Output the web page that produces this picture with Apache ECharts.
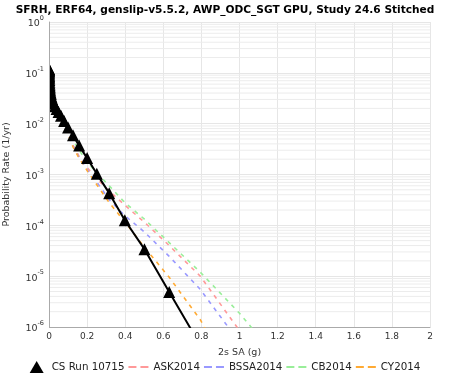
<!DOCTYPE html>
<html><head><meta charset="utf-8">
<script src="https://cdn.jsdelivr.net/npm/echarts@6/dist/echarts.min.js"></script>
<style>html,body{margin:0;padding:0;background:#fff}#c{width:450px;height:375px}</style>
</head><body><div id="c"></div>
<script>
const chartTitle = 'SFRH, ERF64, genslip-v5.5.2, AWP_ODC_SGT GPU, Study 24.6 Stitched';
const xAxisName = '2s SA (g)';
const yAxisName = 'Probability Rate (1/yr)';
const seriesNames = ['CS Run 10715', 'ASK2014', 'BSSA2014', 'CB2014', 'CY2014'];
const seriesColors = ['#000000', '#ff9999', '#9999ff', '#99ee99', '#ffaa33'];

const saValues = [0.0001,0.00013,0.00016,0.0002,0.00025,0.00032,0.0004,0.0005,0.00063,0.00079,
  0.001,0.00126,0.00158,0.002,0.00251,0.00316,0.00398,0.00501,0.00631,0.00794,
  0.01,0.0126,0.0158,0.02,0.0251,0.0316,0.0398,0.0501,0.0631,0.0794,
  0.1,0.126,0.158,0.2,0.251,0.316,0.398,0.501,0.631,0.794,1.0,1.26];

const csRates = [0.120,0.118,0.116,0.113,0.110,0.106,0.102,0.097,0.092,0.087,
  0.082,0.077,0.072,0.067,0.062,0.057,0.053,0.049,0.045,0.041,
  0.038,0.034,0.031,0.028,0.025,0.022,0.0195,0.0170,0.0143,0.0113,
  0.0084,0.0059,0.0037,0.0021,0.00103,0.00043,0.000126,0.000034,0.0000049,0.00000044];

const askRates = [0.118,0.116,0.114,0.111,0.108,0.104,0.100,0.095,0.090,0.085,
  0.080,0.075,0.070,0.065,0.060,0.055,0.051,0.047,0.043,0.039,
  0.036,0.032,0.029,0.026,0.023,0.020,0.0176,0.0150,0.0120,0.0091,
  0.0065,0.0038,0.0023,0.00138,0.00083,0.00047,0.00025,0.000115,0.00004,0.00001,0.00000085,0.000000025];

const bssaRates = [0.116,0.114,0.112,0.109,0.106,0.102,0.098,0.093,0.088,0.083,
  0.078,0.073,0.068,0.063,0.058,0.054,0.050,0.046,0.042,0.038,
  0.035,0.031,0.028,0.025,0.022,0.0195,0.017,0.0145,0.0117,0.0089,
  0.0063,0.0036,0.0022,0.00126,0.00071,0.00032,0.000155,0.000074,0.0000245,0.0000055,0.0000005,0.000000016];

const cbRates = [0.120,0.118,0.116,0.113,0.110,0.106,0.102,0.097,0.092,0.087,
  0.082,0.077,0.072,0.067,0.062,0.058,0.054,0.050,0.046,0.042,
  0.039,0.035,0.032,0.029,0.026,0.023,0.020,0.0172,0.0126,0.0100,
  0.0074,0.0047,0.0030,0.0018,0.00107,0.0006,0.00028,0.000132,0.0000457,0.000012,0.00000186,0.00000013];

const cyRates = [0.119,0.117,0.115,0.112,0.109,0.105,0.101,0.096,0.091,0.086,
  0.081,0.076,0.071,0.066,0.061,0.056,0.052,0.048,0.044,0.040,
  0.036,0.032,0.029,0.026,0.023,0.020,0.0175,0.0148,0.0117,0.0087,
  0.0062,0.0035,0.0021,0.0012,0.00063,0.00028,0.000117,0.000037,0.0000095,0.0000014,0.00000005,0.000000001];

const xTickValues = [0,0.2,0.4,0.6,0.8,1,1.2,1.4,1.6,1.8,2];
const yDecadeExponents = [-6,-5,-4,-3,-2,-1,0];

const FONT = 'DejaVu Sans';
const GRID = { left: 49, right: 20, top: 22, bottom: 48 };
const W = 450, H = 375;
const pairs = (ys) => ys.map((y, i) => [saValues[i], y]);

// minor log grid lines (2..9 x each decade), drawn as one broken line
const minorGrid = [];
yDecadeExponents.slice(0, -1).forEach(e => {
  for (let m = 2; m <= 9; m++) {
    const v = m * Math.pow(10, e);
    minorGrid.push([xTickValues[0], v], [xTickValues[xTickValues.length - 1], v], [1, '-']);
  }
});

const dashIcon = 'path://M0,0 H8 V2 H0 Z M12,0 H20 V2 H12 Z';
const triIcon = 'path://M7,0 L14,12 L0,12 Z';

const series = [];
series.push({
  type: 'line', name: '_minor', data: minorGrid, silent: true, z: 0, symbol: 'none', showSymbol: false,
  connectNulls: false, clip: true, color: '#ececec',
  lineStyle: { color: '#ececec', width: 1 }
});
[askRates, bssaRates, cbRates, cyRates].forEach((arr, k) => {
  series.push({
    type: 'line', name: seriesNames[k + 1], data: pairs(arr), showSymbol: false, symbol: 'none',
    clip: true, z: 2, color: seriesColors[k + 1],
    lineStyle: { color: seriesColors[k + 1], width: 1.6, type: [4, 5] }
  });
});
series.push({
  type: 'line', name: seriesNames[0], data: pairs(csRates), symbol: 'triangle', symbolSize: 12,
  showSymbol: true, clip: true, z: 6, color: '#000',
  itemStyle: { color: '#000' }, lineStyle: { color: '#000', width: 2 }
});

const yBase = { type: 'log', logBase: 10, min: 1e-6, max: 1, splitNumber: 6, position: 'left', offset: 0 };

const chart = echarts.init(document.getElementById('c'), null, { renderer: 'canvas' });
chart.setOption({
  animation: false,
  backgroundColor: '#fff',
  title: { text: chartTitle, left: 'center', top: 0,
    textStyle: { fontFamily: FONT, fontSize: 10.6, fontWeight: 'bold', color: '#000' } },
  grid: { left: GRID.left, right: GRID.right, top: GRID.top, bottom: GRID.bottom, containLabel: false, outerBoundsMode: 'none' },
  // white mask left of the plot so markers are clipped at the axis, as in the original
  graphic: [{
    type: 'rect', z: 8, silent: true,
    shape: { x: GRID.left - 12, y: GRID.top - 2, width: 12, height: H - GRID.top - GRID.bottom + 4 },
    style: { fill: '#fff' }
  }],
  legend: {
    top: 356, left: 'center', itemWidth: 20, itemHeight: 12, itemGap: 4, symbolKeepAspect: true,
    textStyle: { fontFamily: FONT, fontSize: 10.3, color: '#222' },
    data: [
      { name: seriesNames[0], icon: triIcon },
      { name: seriesNames[1], icon: dashIcon },
      { name: seriesNames[2], icon: dashIcon },
      { name: seriesNames[3], icon: dashIcon },
      { name: seriesNames[4], icon: dashIcon }
    ]
  },
  xAxis: {
    type: 'value', min: 0, max: 2, interval: 0.2,
    name: xAxisName, nameLocation: 'middle', nameGap: 21,
    nameTextStyle: { fontFamily: FONT, fontSize: 9.5, color: '#333' },
    axisLine: { show: true, lineStyle: { color: '#aaaaaa', width: 1 } },
    axisTick: { show: false },
    axisLabel: { fontFamily: FONT, fontSize: 9, color: '#333', margin: 5 },
    splitLine: { show: true, lineStyle: { color: '#e6e6e6', width: 1 } }
  },
  yAxis: [
    Object.assign({}, yBase, {
      axisLine: { show: false }, axisTick: { show: false }, axisLabel: { show: false },
      splitLine: { show: true, lineStyle: { color: '#e6e6e6', width: 1 } }
    }),
    Object.assign({}, yBase, {
      z: 10,
      name: yAxisName, nameLocation: 'middle', nameGap: 37,
      nameTextStyle: { fontFamily: FONT, fontSize: 9.5, color: '#333' },
      axisLine: { show: true, lineStyle: { color: '#aaaaaa', width: 1 } },
      axisTick: { show: false },
      splitLine: { show: false },
      axisLabel: {
        margin: 5, color: '#333',
        formatter: (v) => '{b|10}{s|' + Math.round(Math.log10(v)) + '}',
        rich: {
          b: { fontFamily: FONT, fontSize: 9.5, color: '#333', lineHeight: 14, verticalAlign: 'bottom' },
          s: { fontFamily: FONT, fontSize: 6.5, color: '#333', verticalAlign: 'top' }
        }
      }
    })
  ],
  series: series
});
</script></body></html>
